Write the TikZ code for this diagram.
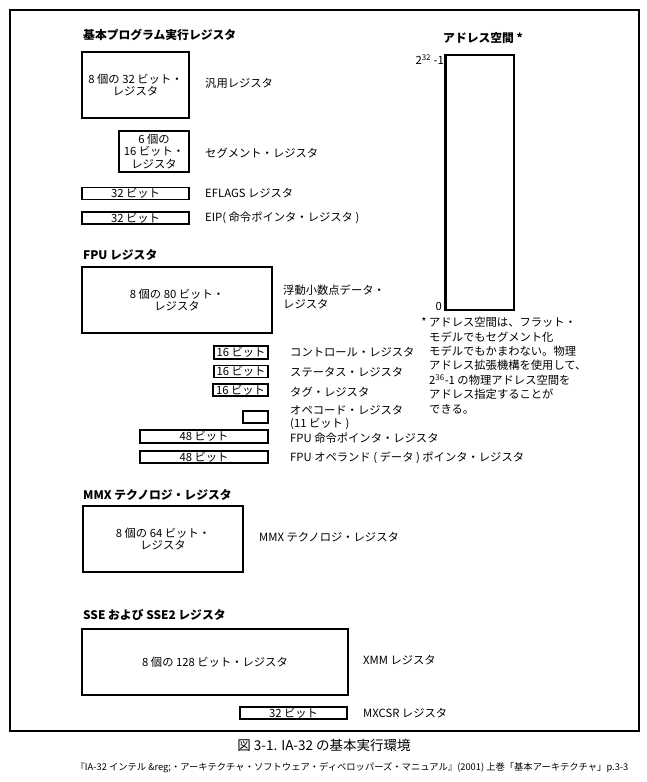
\documentclass[tikz,border=0pt]{standalone}
\usepackage{fontspec}
\setmainfont{Noto Sans CJK JP}
\begin{document}
\begin{tikzpicture}[x=1pt,y=-1pt,
  every node/.style={inner sep=0pt, font=\fontsize{11.3}{12.5}\selectfont},
  bigbox/.style={draw, line width=1.8pt, align=center},
  smallbox/.style={draw, line width=1.3pt},
  lbl/.style={anchor=west, align=left},
  ttl/.style={anchor=west, font=\bfseries\fontsize{11.8}{13}\selectfont}]
\useasboundingbox (0,0) rectangle (647,782);
\draw[line width=2pt] (10,10) rectangle (639,731);

% basic program execution registers
\node[ttl] (t1) at (83,35) {基本プログラム実行レジスタ};
\node[bigbox, minimum width=107, minimum height=66] (gp) at (135.5,85) {8 個の 32 ビット・\\レジスタ};
\node[lbl] (gpl) at (205,83) {汎用レジスタ};
\node[bigbox, minimum width=70, minimum height=41] (seg) at (154,151.5) {6 個の\\16 ビット・\\レジスタ};
\node[lbl] (segl) at (205,153) {セグメント・レジスタ};
\node[smallbox, minimum width=107, minimum height=12] (efl) at (135.5,193.5) {32 ビット};
\node[lbl] (efll) at (205,193) {EFLAGS レジスタ};
\node[smallbox, minimum width=107, minimum height=12] (eip) at (135.5,218) {32 ビット};
\node[lbl] (eipl) at (205,218) {EIP( 命令ポインタ・レジスタ )};

% address space
\node[ttl] (t5) at (443,38) {アドレス空間 *};
\node[draw, line width=1.6pt, minimum width=68, minimum height=255] (addr) at (480,182.5) {};
\draw[line width=2.6pt] (addr.north west) -- (addr.south west);
\node[anchor=east] (atop) at (444,60) {2\textsuperscript{32} -1};
\node[anchor=east] (abot) at (442,306) {0};
\node[anchor=north west, align=left, font=\fontsize{11.3}{14.4}\selectfont] (note) at (429,317)
 {\llap{* }アドレス空間は、フラット・\\モデルでもセグメント化\\モデルでもかまわない。物理\\アドレス拡張機構を使用して、\\2\textsuperscript{36}-1 の物理アドレス空間を\\アドレス指定することが\\できる。};

% FPU registers
\node[ttl] (t2) at (83,255) {FPU レジスタ};
\node[bigbox, minimum width=190, minimum height=66] (fdata) at (177,300) {8 個の 80 ビット・\\レジスタ};
\node[lbl, font=\fontsize{11.3}{14}\selectfont] (fdatal) at (283,297) {浮動小数点データ・\\レジスタ};
\node[smallbox, minimum width=54, minimum height=13] (fctl) at (241,352.5) {16 ビット};
\node[lbl] (fctll) at (290,352) {コントロール・レジスタ};
\node[smallbox, minimum width=54, minimum height=12] (fst) at (241,371.5) {16 ビット};
\node[lbl] (fstl) at (290,372) {ステータス・レジスタ};
\node[smallbox, minimum width=55, minimum height=12] (ftag) at (240.5,390) {16 ビット};
\node[lbl] (ftagl) at (290,392) {タグ・レジスタ};
\node[smallbox, minimum width=25, minimum height=12] (fop) at (255.5,417) {};
\node[lbl, font=\fontsize{11.3}{13}\selectfont] (fopl) at (290,417.5) {オペコード・レジスタ\\(11 ビット )};
\node[smallbox, minimum width=128, minimum height=13] (fip) at (204,436.5) {48 ビット};
\node[lbl] (fipl) at (290,438) {FPU 命令ポインタ・レジスタ};
\node[smallbox, minimum width=128, minimum height=12] (fdp) at (204,457) {48 ビット};
\node[lbl] (fdpl) at (290,457.5) {FPU オペランド ( データ ) ポインタ・レジスタ};

% MMX
\node[ttl] (t3) at (83,495) {MMX テクノロジ・レジスタ};
\node[bigbox, minimum width=160, minimum height=66] (mmx) at (163,539) {8 個の 64 ビット・\\レジスタ};
\node[lbl] (mmxl) at (259,537) {MMX テクノロジ・レジスタ};

% SSE
\node[ttl] (t4) at (83,615) {SSE および SSE2 レジスタ};
\node[bigbox, minimum width=266, minimum height=66] (xmm) at (215,662) {8 個の 128 ビット・レジスタ};
\node[lbl] (xmml) at (363,660) {XMM レジスタ};
\node[smallbox, minimum width=107, minimum height=12] (mxcsr) at (293.5,713) {32 ビット};
\node[lbl] (mxcsrl) at (363,713) {MXCSR レジスタ};

% caption
\node[font=\fontsize{13.5}{15}\selectfont] (cap) at (324,745) {図 3-1. IA-32 の基本実行環境};
\node[font=\fontsize{9.3}{10}\selectfont] (src) at (352,768) {『IA-32 インテル \&reg;・アーキテクチャ・ソフトウェア・ディベロッパーズ・マニュアル』(2001) 上巻「基本アーキテクチャ」p.3-3};
\end{tikzpicture}
\end{document}
